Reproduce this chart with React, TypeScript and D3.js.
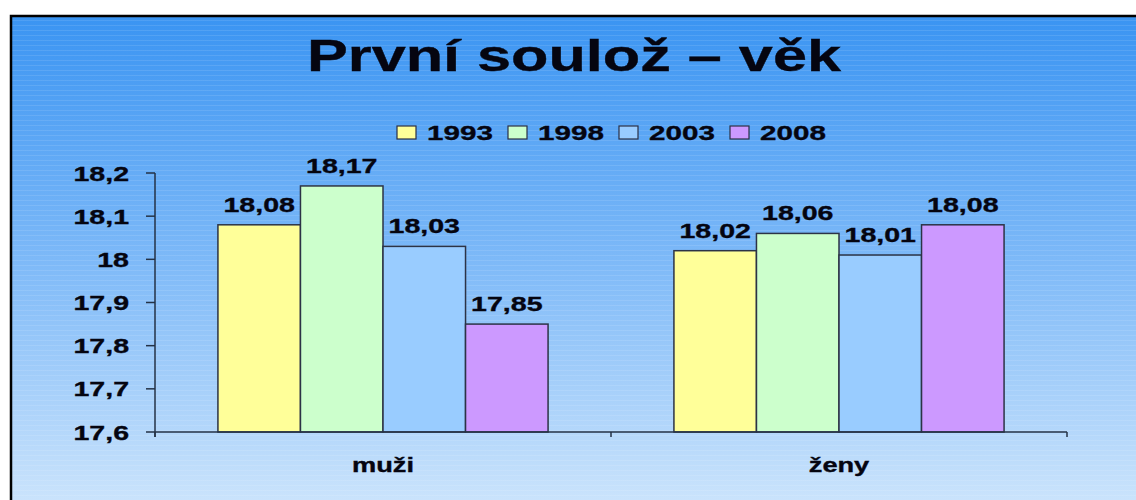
import React, { useEffect, useRef } from 'react'
import * as d3 from 'd3'

const categories = ['muži', 'ženy']
const years = ['1993', '1998', '2003', '2008']
const values1993 = [18.08, 18.02]
const values1998 = [18.17, 18.06]
const values2003 = [18.03, 18.01]
const values2008 = [17.85, 18.08]
const yTicks = [17.6, 17.7, 17.8, 17.9, 18.0, 18.1, 18.2]
const colors = ['#ffff99', '#ccffcc', '#99ccff', '#cc99ff']

const W = 1136
const H = 500
const SX = 1.36 // picture is stretched sideways

const comma = (v: number) => {
  const s = d3.format('.2f')(v).replace(/0+$/, '').replace(/\.$/, '')
  return s.replace('.', ',')
}

export default function App() {
  const ref = useRef<SVGSVGElement>(null)

  useEffect(() => {
    const svg = d3.select(ref.current)
    svg.selectAll('*').remove()
    const series = [values1993, values1998, values2003, values2008]

    const defs = svg.append('defs')
    const grad = defs.append('linearGradient').attr('id', 'bg').attr('x1', 0).attr('y1', 0).attr('x2', 0).attr('y2', 1)
    grad.append('stop').attr('offset', '0%').attr('stop-color', '#3a94f2')
    grad.append('stop').attr('offset', '50%').attr('stop-color', '#7fbaf8')
    grad.append('stop').attr('offset', '100%').attr('stop-color', '#cfe6fc')
    const pat = defs.append('pattern').attr('id', 'stripes').attr('width', 8).attr('height', 5).attr('patternUnits', 'userSpaceOnUse')
    pat.append('rect').attr('y', 0).attr('width', 8).attr('height', 1).attr('fill', '#ffffff').attr('opacity', 0.1)

    svg.append('rect').attr('width', W).attr('height', H).attr('fill', '#ffffff')
    svg.append('rect').attr('x', 11).attr('y', 16).attr('width', W).attr('height', H)
      .attr('fill', 'url(#bg)')
    svg.append('rect').attr('x', 11).attr('y', 16).attr('width', W).attr('height', H)
      .attr('fill', 'url(#stripes)')
    svg.append('rect').attr('x', 11).attr('y', 16).attr('width', W).attr('height', H)
      .attr('fill', 'none').attr('stroke', '#000').attr('stroke-width', 2.5)

    const font = '"Liberation Sans", Arial, sans-serif'
    const stretchText = (g: any, x: number, y: number, txt: string, size: number, anchor = 'middle', sx = SX) =>
      g.append('text')
        .attr('transform', 'translate(' + x + ',' + y + ') scale(' + sx + ',1)')
        .attr('text-anchor', anchor)
        .attr('font-family', font)
        .attr('font-weight', 'bold')
        .attr('font-size', size)
        .attr('fill', '#050510')
        .attr('stroke', '#050510')
        .attr('stroke-width', 0.35)
        .text(txt)

    // title
    stretchText(svg, 574, 71, 'První soulož – věk', 45)

    // legend
    const legend = svg.append('g')
    years.forEach((yr, i) => {
      const lx = 397 + i * 111
      legend.append('rect').attr('x', lx).attr('y', 126).attr('width', 19).attr('height', 13)
        .attr('fill', colors[i]).attr('stroke', '#2a2f45').attr('stroke-width', 1.2)
      stretchText(legend, lx + 30, 139.5, yr, 21, 'start', 1.41)
    })

    const x0 = d3.scaleBand().domain(categories).range([155, 1067])
    const gap = x0.bandwidth() * 0.138
    const x1 = d3.scaleBand().domain(years).range([gap, x0.bandwidth() - gap])
    const y = d3.scaleLinear().domain([17.6, 18.2]).range([432, 173])

    // bars
    const bars = svg.append('g')
    categories.forEach((c, ci) => {
      years.forEach((yr, si) => {
        const v = series[si][ci]
        const bx = (x0(c) as number) + (x1(yr) as number)
        bars.append('rect')
          .attr('x', bx).attr('y', y(v))
          .attr('width', x1.bandwidth()).attr('height', y(17.6) - y(v))
          .attr('fill', colors[si]).attr('stroke', '#2c3346').attr('stroke-width', 1.5)
        stretchText(bars, bx + x1.bandwidth() / 2, y(v) - 13, comma(v), 21)
      })
    })

    // axes
    const axisColor = '#243246'
    const ax = svg.append('g')
    ax.append('line').attr('x1', 155).attr('x2', 155).attr('y1', y(18.2)).attr('y2', 437)
      .attr('stroke', axisColor).attr('stroke-width', 1.5)
    ax.append('line').attr('x1', 155).attr('x2', 1067).attr('y1', y(17.6)).attr('y2', y(17.6))
      .attr('stroke', axisColor).attr('stroke-width', 1.5)
    yTicks.forEach(t => {
      ax.append('line').attr('x1', 146).attr('x2', 155).attr('y1', y(t)).attr('y2', y(t))
        .attr('stroke', axisColor).attr('stroke-width', 1.5)
      stretchText(ax, 129, y(t) + 7.5, comma(t), 21, 'end')
    })
    const xTickPos = categories.map(c => x0(c) as number).concat([1067])
    xTickPos.forEach(p => {
      ax.append('line').attr('x1', p).attr('x2', p).attr('y1', y(17.6)).attr('y2', 437)
        .attr('stroke', axisColor).attr('stroke-width', 1.5)
    })
    categories.forEach(c => {
      stretchText(ax, (x0(c) as number) + x0.bandwidth() / 2, 472, c, 20)
    })
  }, [])

  return (
    <svg ref={ref} width={W} height={H}
      style={{ position: 'absolute', left: 0, top: 0, display: 'block' }} />
  )
}
